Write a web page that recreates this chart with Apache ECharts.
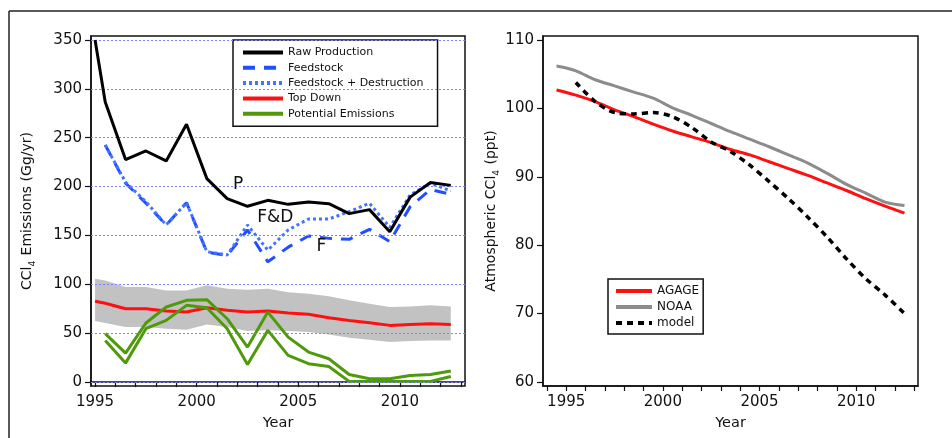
<!DOCTYPE html>
<html>
<head>
<meta charset="utf-8">
<script src="https://cdn.jsdelivr.net/npm/echarts@6/dist/echarts.min.js"></script>
<style>
  html, body { margin: 0; padding: 0; background: #fff; }
  #chart { width: 952px; height: 438px; }
</style>
</head>
<body>
<div id="chart"></div>
<script>
// left panel: emissions (Gg/yr)
var leftYears = [1995.0, 1995.5, 1996.5, 1997.5, 1998.5, 1999.5, 2000.5, 2001.5, 2002.5, 2003.5,
                 2004.5, 2005.5, 2006.5, 2007.5, 2008.5, 2009.5, 2010.5, 2011.5, 2012.5];
var rawProduction = [350, 286.5, 227.6, 236.4, 226.2, 263.7, 208.1, 187.6, 179.8, 185.9,
                     181.8, 184.2, 182.5, 172.3, 176.4, 153.8, 189.2, 204.2, 201.2];
var feedstock = [null, 242.5, 203.5, 183, 160.7, 183.5, 133, 129.5, 155.6, 123,
                 138, 149.4, 147, 146, 156.3, 143.6, 179.4, 197, 192];
var feedstockDestr = [null, 242.5, 204.5, 184.5, 160.7, 183.5, 133.4, 130, 160.7, 135,
                      155.6, 166.8, 166.8, 174.3, 182.9, 158.3, 191.4, 203.4, 195.5];
var topDown = [82.6, 80.6, 75, 75, 72.7, 71.6, 76, 73.4, 71.6, 72.7,
               70.6, 69.3, 65.8, 63.1, 60.7, 58, 59, 59.7, 59];
var bandUpper = [105.8, 104, 97.2, 97.2, 93.8, 93.8, 99, 95.5, 94.5, 95.5,
                 92, 90.4, 87.7, 83.6, 80.2, 76.8, 77.4, 78.5, 77.4];
var bandLower = [62.4, 60.5, 56.3, 56.3, 54.6, 53.6, 59, 56.3, 52.2, 52.9,
                 52.2, 51.2, 48.8, 45.4, 43.3, 41, 42, 42.6, 42.6];
var potentialHigh = [null, 49.5, 29.7, 60.4, 76.8, 83.6, 84.3, 64.8, 35.8, 71.6,
                     46, 30.7, 23.9, 7.8, 3.4, 3.4, 6.8, 7.8, 11.3];
var potentialLow = [null, 42.6, 19.4, 54.6, 63.1, 78.5, 76, 54.6, 18, 52.9,
                    27.3, 18.8, 16, 0.7, 0.7, 0.7, 0.7, 0.7, 5.8];
var leftYTicks = [0, 50, 100, 150, 200, 250, 300, 350];
var curveLabels = [['P', 2002.04, 201.6], ['F&D', 2003.87, 167.9], ['F', 2006.13, 138.2]];

// right panel: atmospheric CCl4 (ppt)
var rightYears = [1994.5, 1995.5, 1996.5, 1997.5, 1998.5, 1999.5, 2000.5, 2001.5, 2002.5,
                  2003.5, 2004.5, 2005.5, 2006.5, 2007.5, 2008.5, 2009.5, 2010.5, 2011.5, 2012.5];
var agage = [102.7, 101.95, 101, 99.8, 98.8, 97.7, 96.7, 95.85, 95,
             94, 93.2, 92.2, 91.2, 90.2, 89.1, 88, 86.8, 85.7, 84.7];
var noaa = [106.2, 105.5, 104.2, 103.3, 102.4, 101.5, 100.1, 99, 97.8,
            96.6, 95.5, 94.4, 93.2, 92, 90.5, 88.9, 87.6, 86.3, 85.8];
var model = [null, 103.8, 101, 99.4, 99.2, 99.4, 98.8, 97.2, 95.1,
             93.7, 91.7, 89.3, 86.8, 84.1, 81.2, 78, 75.1, 72.7, 70];
var rightYTicks = [60, 70, 80, 90, 100, 110];

var xLabelYears = [1995, 2000, 2005, 2010];
var xTickYears = [];
for (var y = 1994; y <= 2013; y++) xTickYears.push(y);

function pairs(xs, ys) {
    return xs.map(function (x, i) { return [x, ys[i]]; });
}
function plain(v) { return String(Math.round(v)); }

var FONT = 'DejaVu Sans';
var chart = echarts.init(document.getElementById('chart'));

function xAxisCfg(idx, min, max) {
    return {
        type: 'value', gridIndex: idx, min: min, max: max,
        name: 'Year', nameLocation: 'middle', nameGap: 30,
        nameTextStyle: { fontFamily: FONT, fontSize: 14.5, color: '#111' },
        axisLine: { lineStyle: { color: '#111', width: 1.5 } },
        axisTick: { show: true, length: 5, lineStyle: { color: '#111', width: 1.2 },
                    customValues: xTickYears.filter(function (v) { return v >= min && v <= max; }) },
        axisLabel: { customValues: xLabelYears, formatter: plain, margin: 9, fontFamily: FONT, fontSize: 15, color: '#111' },
        splitLine: { show: false }
    };
}

function yAxisCfg(idx, min, max, ticks, name, gap) {
    return {
        type: 'value', gridIndex: idx, min: min, max: max,
        name: name, nameLocation: 'middle', nameGap: gap,
        nameTextStyle: {
            color: '#111',
            rich: {
                n: { fontFamily: FONT, fontSize: 14, color: '#111', lineHeight: 20, verticalAlign: 'middle' },
                s: { fontFamily: FONT, fontSize: 9, color: '#111', lineHeight: 20, verticalAlign: 'bottom', padding: [0, 1, 0, 0] }
            }
        },
        axisLine: { show: true, lineStyle: { color: '#111', width: 1.5 } },
        axisTick: { show: true, length: 6, lineStyle: { color: '#111', width: 1.2 }, customValues: ticks },
        axisLabel: { customValues: ticks, formatter: plain, margin: 9, fontFamily: FONT, fontSize: 15, color: '#111' },
        splitLine: { show: false }
    };
}

var option = {
    animation: false,
    backgroundColor: '#fff',
    graphic: [
        { type: 'line', shape: { x1: 9, y1: 11, x2: 952, y2: 11 }, style: { stroke: '#222', lineWidth: 1.5 } },
        { type: 'line', shape: { x1: 9, y1: 11, x2: 9, y2: 438 }, style: { stroke: '#222', lineWidth: 1.5 } }
    ],
    grid: [
        { left: 91, top: 36, width: 374, height: 350, show: true, borderColor: '#111', borderWidth: 1.5, backgroundColor: 'transparent' },
        { left: 543, top: 36, width: 375, height: 350, show: true, borderColor: '#111', borderWidth: 1.5, backgroundColor: 'transparent' }
    ],
    xAxis: [
        xAxisCfg(0, 1994.8, 2013.2),
        xAxisCfg(1, 1993.8, 2013.2)
    ],
    yAxis: [
        yAxisCfg(0, -4, 354, leftYTicks, '{n|CCl}{s|4}{n| Emissions (Gg/yr)}', 54),
        yAxisCfg(1, 59.4, 110.6, rightYTicks, '{n|Atmospheric CCl}{s|4}{n| (ppt)}', 39)
    ],
    legend: [
        {
            orient: 'vertical', left: 233, top: 40,
            padding: [7, 14, 7, 8], itemGap: 4.3, itemWidth: 40, itemHeight: 11,
            borderColor: '#111', borderWidth: 1.5, backgroundColor: '#fff',
            itemStyle: { opacity: 0 },
            lineStyle: { width: 4 },
            textStyle: { fontFamily: FONT, fontSize: 11, color: '#111' },
            data: ['Raw Production', 'Feedstock', 'Feedstock + Destruction', 'Top Down', 'Potential Emissions']
        },
        {
            orient: 'vertical', left: 608, top: 279,
            padding: [6, 4, 5, 6], itemGap: 4, itemWidth: 36, itemHeight: 11,
            borderColor: '#111', borderWidth: 1.5, backgroundColor: '#fff',
            itemStyle: { opacity: 0 },
            lineStyle: { width: 4 },
            textStyle: { fontFamily: FONT, fontSize: 12, color: '#111' },
            data: ['AGAGE', 'NOAA', 'model']
        }
    ],
    series: [
        {
            name: 'grid lines', type: 'line', xAxisIndex: 0, yAxisIndex: 0, data: [], z: 0, silent: true,
            markLine: {
                silent: true, symbol: 'none', label: { show: false },
                lineStyle: { color: '#8080ff', type: [2, 2], width: 1 },
                data: leftYTicks.map(function (v) { return { yAxis: v }; })
            }
        },
        {
            name: 'band', type: 'custom', xAxisIndex: 0, yAxisIndex: 0, z: 1, silent: true,
            data: pairs(leftYears, bandUpper),
            renderItem: function (params, api) {
                if (params.dataIndex !== 0) return null;
                var pts = [];
                leftYears.forEach(function (x, i) { pts.push(api.coord([x, bandUpper[i]])); });
                for (var i = leftYears.length - 1; i >= 0; i--) pts.push(api.coord([leftYears[i], bandLower[i]]));
                return { type: 'polygon', shape: { points: pts }, style: { fill: '#c2c2c2' } };
            }
        },
        {
            name: 'Raw Production', type: 'line', xAxisIndex: 0, yAxisIndex: 0, symbol: 'none', z: 5,
            data: pairs(leftYears, rawProduction), color: '#000',
            lineStyle: { color: '#000', width: 3 },
            markPoint: {
                symbol: 'circle', symbolSize: 0,
                label: { show: true, position: 'inside', formatter: '{b}', fontFamily: FONT, fontSize: 17, color: '#111' },
                data: curveLabels.map(function (c) { return { name: c[0], coord: [c[1], c[2]] }; })
            }
        },
        {
            name: 'Feedstock', type: 'line', xAxisIndex: 0, yAxisIndex: 0, symbol: 'none', z: 4,
            data: pairs(leftYears, feedstock), color: '#1f4fff',
            lineStyle: { color: '#1f4fff', width: 3, type: [12, 9] }
        },
        {
            name: 'Feedstock + Destruction', type: 'line', xAxisIndex: 0, yAxisIndex: 0, symbol: 'none', z: 4,
            data: pairs(leftYears, feedstockDestr), color: '#4474ff',
            lineStyle: { color: '#4474ff', width: 3, type: [3, 3] }
        },
        {
            name: 'Top Down', type: 'line', xAxisIndex: 0, yAxisIndex: 0, symbol: 'none', z: 3,
            data: pairs(leftYears, topDown), color: '#ff1010',
            lineStyle: { color: '#ff1010', width: 3 }
        },
        {
            name: 'Potential Emissions', type: 'line', xAxisIndex: 0, yAxisIndex: 0, symbol: 'none', z: 3,
            data: pairs(leftYears, potentialHigh), color: '#4f9a0c',
            lineStyle: { color: '#4f9a0c', width: 3 }
        },
        {
            name: 'Potential Emissions (low)', type: 'line', xAxisIndex: 0, yAxisIndex: 0, symbol: 'none', z: 3,
            data: pairs(leftYears, potentialLow), color: '#4f9a0c',
            lineStyle: { color: '#4f9a0c', width: 3 }
        },
        {
            name: 'AGAGE', type: 'line', xAxisIndex: 1, yAxisIndex: 1, symbol: 'none', smooth: 0.3, z: 3,
            data: pairs(rightYears, agage), color: '#ff1010',
            lineStyle: { color: '#ff1010', width: 3 }
        },
        {
            name: 'NOAA', type: 'line', xAxisIndex: 1, yAxisIndex: 1, symbol: 'none', smooth: 0.3, z: 3,
            data: pairs(rightYears, noaa), color: '#8c8c8c',
            lineStyle: { color: '#8c8c8c', width: 3 }
        },
        {
            name: 'model', type: 'line', xAxisIndex: 1, yAxisIndex: 1, symbol: 'none', smooth: 0.3, z: 4,
            data: pairs(rightYears, model), color: '#000',
            lineStyle: { color: '#000', width: 3.5, type: [6, 5] }
        }
    ]
};

chart.setOption(option);
</script>
</body>
</html>
